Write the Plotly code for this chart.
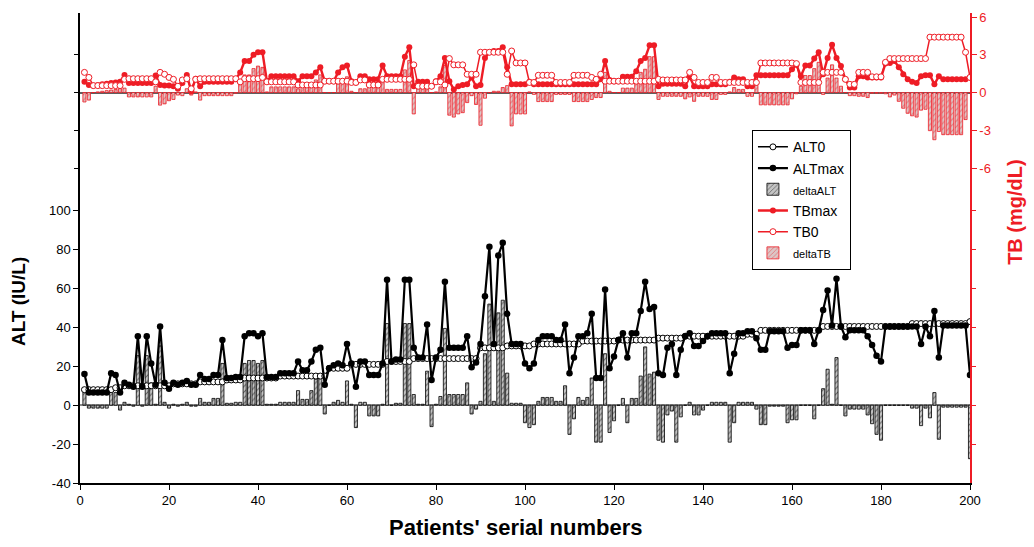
import plotly.graph_objects as go

patients = list(range(1, 201))

alt_max = [
    16, 6.5, 6.5, 6.5, 6.5, 6.5, 16.5, 15.5, 6.5, 11.5,
    10.5, 9.5, 35.5, 9.5, 35.5, 21.5, 10.5, 40.5, 11.5, 8.5,
    11.5, 10.5, 11.5, 12.5, 10.5, 10.5, 15.5, 13.5, 13.5, 15.5,
    15.5, 33.5, 14, 14, 14.5, 14.5, 35.5, 37, 37, 35.5,
    37, 14.5, 14.5, 14.5, 16.5, 16.5, 16.5, 16.5, 22.5, 18,
    18, 22.5, 28.5, 29.5, 10.5, 19, 20.5, 21.5, 20.5, 31.5,
    21.5, 9.5, 22.5, 22.5, 15.5, 15.5, 15.5, 21.5, 64.5, 22.5,
    23.5, 23.5, 64.5, 64.5, 29.5, 24.5, 24.5, 41.5, 13, 24.5,
    28.5, 63.5, 29.5, 29.5, 29.5, 29.5, 35.5, 19.5, 22, 31.5,
    56, 81.5, 31.5, 77, 83.5, 47, 31.5, 31.5, 31.5, 21.5,
    19, 21.5, 33.5, 35.5, 35.5, 35.5, 33.5, 33.5, 41.5, 16.5,
    24.5, 35.5, 35.5, 37, 47, 14, 14, 59.5, 19, 25,
    33.5, 37, 24.5, 37, 37, 48.5, 63.5, 49.5, 50.5, 16.5,
    15.5, 29.5, 31.5, 15.5, 28.5, 35.5, 37, 30.5, 30.5, 33,
    35.5, 37, 37, 37, 37, 16.5, 26.5, 37, 37, 38,
    38, 34.5, 28.5, 28.5, 38, 38, 38, 38, 29.5, 31,
    31, 38.5, 38.5, 38.5, 31.5, 38.5, 49, 59, 41, 65,
    40.5, 35, 38.5, 38.5, 38.5, 38.5, 35.5, 31, 25.5, 22.5,
    40.5, 40.5, 40.5, 40.5, 40.5, 40.5, 40.5, 40.5, 31.5, 40.5,
    35.5, 48.5, 24.5, 41, 41, 41, 41, 41, 41, 15.5,
]

alt_0 = [
    8, 8, 8, 8, 8, 8, 8, 9, 9, 10,
    10, 10, 10, 10, 10, 10, 10, 10, 10, 10,
    11, 11, 11, 11, 11, 11, 12, 12, 12, 12,
    12, 12, 13, 13, 13, 13, 14, 14, 14, 14,
    14, 14, 14, 14, 15, 15, 15, 15, 15, 15,
    15, 15, 15, 15, 15, 19, 19, 19, 19, 19,
    21, 21, 21, 21, 21, 21, 21, 21, 22.5, 22.5,
    22.5, 22.5, 22.5, 22.5, 24, 24, 24, 24, 24, 24,
    24, 24, 24, 24, 24, 24, 24, 24, 24, 29.5,
    29.5, 29.5, 29.5, 29.5, 29.5, 30.5, 30.5, 30.5, 30.5, 30.5,
    30.5, 31.5, 31.5, 31.5, 31.5, 31.5, 31.5, 31.5, 31.5, 31.5,
    31.5, 31.5, 33, 33, 33, 33, 33, 33, 33, 33,
    33.5, 33.5, 33.5, 33.5, 33.5, 33.5, 33.5, 33.5, 33.5, 34.5,
    34.5, 34.5, 34.5, 34.5, 34.5, 35.5, 35.5, 35.5, 35.5, 35.5,
    35.5, 35.5, 35.5, 35.5, 35.5, 35.5, 35.5, 35.5, 35.5, 36.5,
    36.5, 36.5, 38.5, 38.5, 38.5, 38.5, 38.5, 38.5, 38.5, 38.5,
    38.5, 38.5, 38.5, 38.5, 38.5, 38.5, 40.5, 40.5, 40.5, 40.5,
    40.5, 40.5, 40.5, 40.5, 40.5, 40.5, 40.5, 40.5, 40.5, 40.5,
    40.5, 40.5, 40.5, 40.5, 40.5, 40.5, 42, 42, 42, 42,
    42, 42, 42, 42, 42, 42, 42, 42, 42, 43,
]

delta_alt = [
    8, -1.5, -1.5, -1.5, -1.5, -1.5, 8.5, 6.5, -2.5, 1.5,
    0.5, -0.5, 25.5, -0.5, 25.5, 11.5, 0.5, 30.5, 1.5, -1.5,
    0.5, -0.5, 0.5, 1.5, -0.5, -0.5, 3.5, 1.5, 1.5, 3.5,
    3.5, 21.5, 1, 1, 1.5, 1.5, 21.5, 23, 23, 21.5,
    23, 0.5, 0.5, 0.5, 1.5, 1.5, 1.5, 1.5, 7.5, 3,
    3, 7.5, 13.5, 14.5, -4.5, 0, 1.5, 2.5, 1.5, 12.5,
    0.5, -11.5, 1.5, 1.5, -5.5, -5.5, -5.5, 0.5, 42, 0,
    1, 1, 42, 42, 5.5, 0.5, 0.5, 17.5, -11, 0.5,
    4.5, 39.5, 5.5, 5.5, 5.5, 5.5, 11.5, -4.5, -2, 2,
    26.5, 52, 2, 47.5, 54, 16.5, 1, 1, 1, -9,
    -11.5, -10, 2, 4, 4, 4, 2, 2, 10, -15,
    -7, 4, 2.5, 4, 14, -19, -19, 26.5, -14, -8,
    0, 3.5, -9, 3.5, 3.5, 15, 30, 16, 17, -18,
    -19, -5, -3, -19, -6, 0, 1.5, -5, -5, -2.5,
    0, 1.5, 1.5, 1.5, 1.5, -19, -9, 1.5, 1.5, 1.5,
    1.5, -2, -10, -10, -0.5, -0.5, -0.5, -0.5, -9, -7.5,
    -7.5, 0, 0, 0, -7, 0, 8.5, 18.5, 0.5, 24.5,
    0, -5.5, -2, -2, -2, -2, -5, -9.5, -15, -18,
    0, 0, 0, 0, 0, 0, -1.5, -1.5, -10.5, -1.5,
    -6.5, 6.5, -17.5, -1, -1, -1, -1, -1, -1, -27.5,
]

tb_max = [
    0.85, 0.6, 0.55, 0.6, 0.65, 0.7, 0.75, 0.8, 0.85, 1.4,
    0.75, 0.75, 0.75, 0.75, 0.75, 0.75, 1.35, 0.6, 0.55, 0.55,
    0.5, 0.3, 0.75, 1.4, 0.1, 1.1, 0.5, 0.85, 0.85, 0.85,
    0.85, 0.85, 0.85, 0.85, 1.05, 1.6, 2.5, 2.5, 3.0, 3.2,
    3.2, 0.9, 1.3, 1.3, 1.3, 1.3, 1.3, 1.3, 0.9, 1.3,
    1.3, 1.3, 1.6, 2.0, 0.9, 0.9, 0.9, 1.6, 2.0, 2.15,
    0.9, 0.8, 1.3, 1.3, 1.05, 1.05, 1.05, 2.15, 1.3, 1.3,
    1.3, 1.3, 2.85, 3.6, 0.5, 0.85, 0.85, 0.85, 0.5, 0.9,
    1.3, 2.75, 0.9, 0.25, 0.5, 0.6, 0.65, 1.2, 0.5, 0.6,
    2.75, 3.2, 3.3, 3.3, 3.6, 2.0, 0.65, 0.65, 0.65, 0.65,
    0.85, 0.65, 0.65, 0.65, 0.65, 0.65, 0.65, 0.65, 0.65, 0.65,
    0.65, 0.65, 0.65, 0.65, 0.65, 0.65, 1.05, 2.5, 1.0, 0.9,
    0.9, 1.25, 1.25, 1.25, 1.7, 2.5, 2.75, 3.75, 3.75, 0.5,
    0.7, 0.7, 0.7, 0.7, 0.7, 0.5, 1.25, 0.5, 0.5, 0.5,
    0.5, 0.65, 0.65, 0.65, 0.65, 0.85, 1.2, 1.05, 1.05, 0.5,
    0.5, 1.37, 1.37, 1.37, 1.37, 1.37, 1.37, 1.37, 1.37, 1.85,
    2.2, 1.3, 2.15, 2.15, 2.7, 3.2, 1.45, 2.75, 3.8, 2.75,
    2.1, 1.05, 0.4, 0.4, 1.3, 1.3, 1.2, 1.2, 1.2, 1.2,
    2.3, 2.35, 2.5, 2.0, 1.45, 1.05, 0.85, 0.75, 1.3, 1.37,
    1.37, 0.65, 1.3, 1.05, 1.05, 1.05, 1.05, 1.05, 1.05, 1.2,
]

tb_0 = [
    1.6, 1.2, 0.55, 0.55, 0.55, 0.55, 0.55, 0.55, 0.55, 1.05,
    1.1, 1.1, 1.1, 1.1, 1.1, 1.1, 0.85, 1.6, 1.45, 1.2,
    1.05, 0.5, 1.0, 1.1, 0.3, 1.05, 1.1, 1.1, 1.1, 1.1,
    1.1, 1.1, 1.1, 1.1, 1.1, 0.85, 1.1, 1.1, 1.1, 1.1,
    1.2, 0.85, 0.85, 0.85, 0.85, 0.85, 0.85, 0.85, 0.6, 0.6,
    0.6, 0.6, 0.6, 0.6, 0.9, 0.9, 0.9, 0.9, 0.9, 0.9,
    0.8, 0.8, 1.0, 1.0, 0.6, 0.6, 0.6, 1.05, 1.05, 1.05,
    1.05, 1.05, 1.05, 1.05, 2.2, 0.5, 0.5, 0.5, 0.5, 0.85,
    0.85, 0.6, 2.7, 2.2, 2.2, 2.2, 1.45, 1.45, 1.45, 3.2,
    3.2, 3.2, 3.2, 3.2, 3.2, 1.45, 3.3, 2.35, 2.35, 2.35,
    0.8, 0.8, 1.37, 1.37, 1.37, 1.37, 0.8, 0.8, 0.8, 0.8,
    1.37, 1.37, 1.37, 1.37, 1.2, 1.05, 1.45, 0.9, 0.9, 0.9,
    0.9, 0.9, 0.9, 0.9, 0.9, 0.9, 0.9, 0.9, 0.9, 1.05,
    1.0, 1.0, 1.0, 1.0, 1.0, 1.0, 1.6, 1.2, 0.8, 0.8,
    0.8, 1.2, 1.2, 0.8, 0.8, 0.8, 0.8, 0.8, 0.8, 0.8,
    0.8, 0.8, 2.35, 2.35, 2.35, 2.35, 2.35, 2.35, 2.35, 2.35,
    2.3, 0.8, 0.8, 0.8, 0.8, 0.8, 1.6, 1.6, 1.6, 1.6,
    1.6, 1.05, 0.65, 0.65, 1.6, 1.6, 1.6, 1.25, 1.25, 1.25,
    2.4, 2.7, 2.7, 2.7, 2.7, 2.7, 2.7, 2.7, 2.7, 2.7,
    4.4, 4.4, 4.4, 4.4, 4.4, 4.4, 4.4, 4.4, 3.2, 1.2,
]

delta_tb = [
    -0.75, -0.6, 0, 0.05, 0.1, 0.15, 0.2, 0.25, 0.3, 0.35,
    -0.35, -0.35, -0.35, -0.35, -0.35, -0.35, 0.5, -1.0, -0.9, -0.65,
    -0.55, -0.2, -0.25, 0.3, -0.2, 0.05, -0.6, -0.25, -0.25, -0.25,
    -0.25, -0.25, -0.25, -0.25, -0.05, 0.75, 1.4, 1.4, 1.9, 2.1,
    2.0, 0.05, 0.45, 0.45, 0.45, 0.45, 0.45, 0.45, 0.3, 0.7,
    0.7, 0.7, 1.0, 1.4, 0, 0, 0, 0.7, 1.1, 1.25,
    0.1, 0, 0.3, 0.3, 0.45, 0.45, 0.45, 1.1, 0.25, 0.25,
    0.25, 0.25, 1.8, 2.55, -1.7, 0.35, 0.35, 0.35, 0, 0.05,
    0.45, 2.15, -1.8, -1.95, -1.7, -1.6, -0.8, -0.25, -0.95, -2.6,
    -0.45, 0, 0.1, 0.1, 0.4, 0.55, -2.65, -1.7, -1.7, -1.7,
    0.05, -0.15, -0.72, -0.72, -0.72, -0.72, -0.15, -0.15, -0.15, -0.15,
    -0.72, -0.72, -0.72, -0.72, -0.55, -0.4, -0.4, 1.6, 0.1, 0,
    0, 0.35, 0.35, 0.35, 0.8, 1.6, 1.85, 2.85, 2.85, -0.55,
    -0.3, -0.3, -0.3, -0.3, -0.3, -0.5, -0.35, -0.7, -0.3, -0.3,
    -0.3, -0.55, -0.55, -0.15, -0.15, 0.05, 0.4, 0.25, 0.25, -0.3,
    -0.3, 0.57, -0.98, -0.98, -0.98, -0.98, -0.98, -0.98, -0.98, -0.5,
    -0.1, 0.5, 1.35, 1.35, 1.9, 2.4, -0.15, 1.15, 2.2, 1.15,
    0.5, 0, -0.25, -0.25, -0.3, -0.3, -0.4, -0.05, -0.05, -0.05,
    -0.1, -0.35, -0.2, -0.7, -1.25, -1.65, -1.85, -1.95, -1.4, -1.33,
    -3.03, -3.75, -3.1, -3.35, -3.35, -3.35, -3.35, -3.35, -2.15, 0,
]

x_ticks = [0, 20, 40, 60, 80, 100, 120, 140, 160, 180, 200]
alt_ticks = [-40, -20, 0, 20, 40, 60, 80, 100]
tb_ticks = [-6, -3, 0, 3, 6]
alt_mirror_ticks = [-20, 0, 20, 40, 60, 80, 100]
tb_mirror_ticks = [-6, -3, 0, 3]

RED = "#ee1c25"
FONT = "Liberation Sans, Arial, sans-serif"
ALT_RANGE = [-40, 201.7]
TB_RANGE = [-31.03, 6.32]

fig = go.Figure()

fig.add_trace(go.Scatter(
    x=patients, y=alt_0, name="ALT0", mode="lines+markers",
    line=dict(color="black", width=1.5),
    marker=dict(symbol="circle", size=6, color="white", line=dict(color="black", width=1)),
    yaxis="y",
))
fig.add_trace(go.Scatter(
    x=patients, y=alt_max, name="ALTmax", mode="lines+markers",
    line=dict(color="black", width=2.2),
    marker=dict(symbol="circle", size=6.5, color="black"),
    yaxis="y",
))
fig.add_trace(go.Bar(
    x=patients, y=delta_alt, name="<span style='font-size:11px'>deltaALT</span>",
    width=0.7,
    marker=dict(color="#bdbdbd", line=dict(color="black", width=0.8),
                pattern=dict(shape="/", fgcolor="black", bgcolor="#c4c4c4", size=4, solidity=0.25)),
    yaxis="y",
))
fig.add_trace(go.Scatter(
    x=patients, y=tb_max, name="TBmax", mode="lines+markers",
    line=dict(color=RED, width=2.4),
    marker=dict(symbol="circle", size=6, color=RED),
    yaxis="y2",
))
fig.add_trace(go.Scatter(
    x=patients, y=tb_0, name="TB0", mode="lines+markers",
    line=dict(color=RED, width=1.5),
    marker=dict(symbol="circle", size=6, color="white", line=dict(color=RED, width=1)),
    yaxis="y2",
))
fig.add_trace(go.Bar(
    x=patients, y=delta_tb, name="<span style='font-size:11px'>deltaTB</span>",
    width=0.7,
    marker=dict(color="#e8c4c4", line=dict(color=RED, width=0.8),
                pattern=dict(shape="/", fgcolor=RED, bgcolor="#dcc6c6", size=4, solidity=0.25)),
    yaxis="y2",
))
# empty helper traces so the mirrored tick axes are drawn
fig.add_trace(go.Scatter(x=[None], y=[None], yaxis="y3", showlegend=False, hoverinfo="skip"))
fig.add_trace(go.Scatter(x=[None], y=[None], yaxis="y4", showlegend=False, hoverinfo="skip"))

fig.update_layout(
    width=1034, height=547,
    margin=dict(l=80, r=64, t=10, b=64),
    paper_bgcolor="white", plot_bgcolor="white",
    font=dict(family=FONT, size=13, color="black"),
    barmode="overlay",
    xaxis=dict(
        range=[0, 200], tickvals=x_ticks, ticktext=[str(v) for v in x_ticks],
        showline=True, linecolor="black", linewidth=1.5,
        ticks="outside", ticklen=5, tickcolor="black", showgrid=False, zeroline=False,
        tickfont=dict(size=13),
    ),
    yaxis=dict(
        range=ALT_RANGE, tickvals=alt_ticks, ticktext=[str(v) for v in alt_ticks],
        showline=True, linecolor="black", linewidth=1.5,
        ticks="outside", ticklen=5, tickcolor="black", showgrid=False,
        zeroline=True, zerolinecolor="#8a8a8a", zerolinewidth=1.5,
        tickfont=dict(size=13),
    ),
    yaxis2=dict(
        range=TB_RANGE, overlaying="y", side="right", anchor="x",
        tickvals=tb_ticks, ticktext=[str(v) for v in tb_ticks],
        showline=True, linecolor=RED, linewidth=1.5,
        ticks="outside", ticklen=5, tickcolor=RED, showgrid=False,
        zeroline=True, zerolinecolor="#606060", zerolinewidth=1.5,
        tickfont=dict(size=13, color=RED),
    ),
    yaxis3=dict(
        range=TB_RANGE, overlaying="y", side="left", anchor="x",
        tickvals=tb_mirror_ticks, showticklabels=False,
        ticks="outside", ticklen=5, tickcolor="black",
        showline=False, showgrid=False, zeroline=False,
    ),
    yaxis4=dict(
        range=ALT_RANGE, overlaying="y", side="right", anchor="x",
        tickvals=alt_mirror_ticks, showticklabels=False,
        ticks="outside", ticklen=5, tickcolor=RED,
        showline=False, showgrid=False, zeroline=False,
    ),
    legend=dict(
        x=0.755, y=0.7505, xanchor="left", yanchor="top",
        bgcolor="white", bordercolor="black", borderwidth=1,
        font=dict(size=14, family=FONT), traceorder="normal",
        itemwidth=30, tracegroupgap=0,
    ),
    showlegend=True,
)

fig.add_annotation(
    text="<b>ALT (IU/L)</b>", xref="paper", yref="paper",
    x=-0.0697, y=0.387, textangle=-90, showarrow=False,
    font=dict(size=19, color="black", family=FONT),
    xanchor="center", yanchor="middle",
)
fig.add_annotation(
    text="<b>TB (mg/dL)</b>", xref="paper", yref="paper",
    x=1.0506, y=0.577, textangle=-90, showarrow=False,
    font=dict(size=20, color=RED, family=FONT),
    xanchor="center", yanchor="middle",
)
fig.add_annotation(
    text="<b>Patients' serial numbers</b>", xref="paper", yref="paper",
    x=0.489, y=-0.095, showarrow=False,
    font=dict(size=22, color="black", family=FONT),
    xanchor="center", yanchor="middle",
)

fig.write_html(
    "out.html",
    config={"displayModeBar": False},
    post_script="document.body.style.margin='0';document.body.style.padding='0';",
)
